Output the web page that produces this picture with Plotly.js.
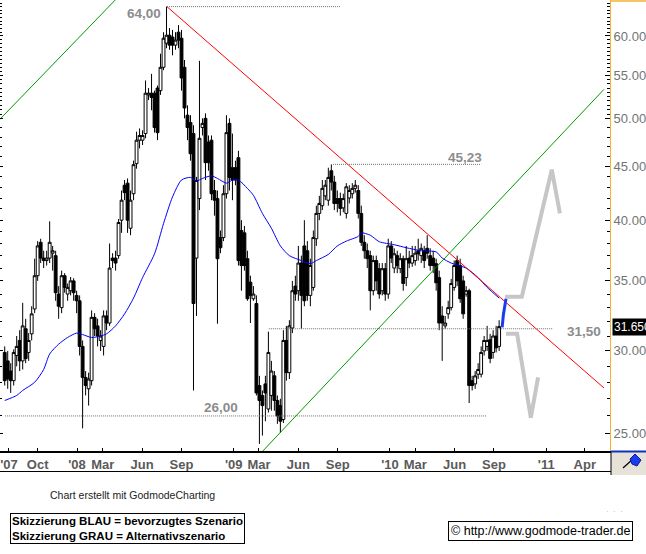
<!DOCTYPE html>
<html>
<head>
<meta charset="utf-8">
<script src="https://cdn.plot.ly/plotly-3.0.1.min.js"></script>
<style>
  html, body { margin: 0; padding: 0; background: #ffffff; }
  #chart { width: 646px; height: 554px; }
</style>
</head>
<body>
<div id="chart"></div>
<script>
// ---------------- DATA ----------------
const firstWeek = '2007-07-16';   // weekly candles, one per week from here

const openP = [
29.9, 29.35, 28.7, 28.1, 29.7, 30.7, 29.35, 31.5, 29.9, 31.15,
32.9, 35.4, 38.1, 36.8, 36.6, 36.8, 37.2, 37.0, 34.0, 33.0,
35.4, 34.0, 34.25, 35.0, 33.9, 33.5, 30.3, 28.3, 27.6, 28.1,
32.3, 31.7, 30.7, 30.3, 32.4, 31.9, 36.8, 36.8, 37.0, 40.0,
43.2, 43.4, 39.3, 42.4, 45.3, 47.7, 47.7, 48.4, 52.7, 52.9,
52.9, 53.5, 53.2, 56.0, 59.05, 60.1, 59.85, 58.8, 60.5, 59.7,
56.0, 50.4, 49.6, 48.4, 36.8, 41.95, 49.05, 50.05, 47.5, 47.7,
42.7, 41.95, 38.5, 38.5, 42.4, 49.5, 44.9, 44.9, 45.9, 39.1,
38.9, 36.75, 34.9, 33.65, 33.3, 27.8, 27.2, 27.9, 26.4, 27.2,
28.4, 26.9, 26.6, 25.8, 30.7, 28.6, 31.55, 34.6, 34.25, 36.4,
37.8, 37.4, 33.9, 34.5, 38.4, 40.6, 41.3, 42.2, 41.8, 44.6,
43.5, 41.95, 41.95, 41.1, 40.6, 42.0, 42.4, 42.9, 42.7, 40.6,
38.1, 37.4, 37.0, 34.25, 36.6, 35.95, 34.25, 35.95, 34.0, 37.8,
36.0, 37.0, 35.95, 36.75, 35.25, 36.8, 36.4, 36.6, 37.4, 37.0,
37.4, 37.6, 37.0, 36.8, 36.35, 35.25, 32.4, 31.7, 32.55, 33.0,
34.5, 36.6, 36.2, 35.0, 34.0, 34.25, 28.1, 27.9, 28.5, 28.5,
30.0, 30.3, 30.75, 29.9, 31.0, 30.3
];
const highP = [
30.3, 30.0, 29.2, 30.1, 31.0, 31.4, 33.35, 32.2, 31.2, 33.1,
36.75, 38.2, 38.4, 37.4, 37.4, 39.9, 37.8, 37.4, 34.6, 35.8,
35.6, 34.8, 35.3, 35.2, 34.25, 33.9, 30.7, 28.7, 28.6, 32.8,
32.6, 32.2, 31.4, 32.8, 32.8, 38.0, 37.2, 37.4, 40.1, 42.7,
43.7, 43.85, 42.7, 45.6, 48.6, 48.95, 48.75, 54.4, 53.5, 55.2,
53.2, 53.8, 57.7, 60.5, 64.0, 61.05, 60.8, 60.5, 61.45, 60.8,
56.9, 51.5, 50.4, 49.3, 44.0, 56.8, 50.05, 50.6, 48.2, 48.2,
43.7, 42.7, 39.1, 43.2, 50.4, 50.05, 48.4, 45.6, 46.6, 40.0,
39.5, 37.4, 35.4, 34.6, 33.9, 28.4, 27.5, 28.4, 31.3, 29.35,
28.7, 27.2, 27.0, 31.4, 31.7, 32.1, 35.0, 35.4, 37.8, 37.0,
40.0, 38.2, 36.75, 39.1, 41.3, 42.2, 43.7, 43.7, 44.9, 45.23,
44.1, 42.7, 42.5, 42.4, 43.4, 43.2, 43.4, 43.7, 43.2, 41.3,
38.7, 38.0, 37.4, 37.0, 37.0, 36.4, 36.4, 36.4, 38.4, 38.2,
37.6, 37.4, 37.2, 37.0, 37.8, 37.4, 37.8, 37.8, 38.4, 38.0,
37.8, 38.7, 37.6, 37.4, 36.75, 35.8, 33.1, 32.4, 33.5, 35.15,
36.6, 37.0, 36.75, 35.4, 34.6, 34.4, 28.4, 28.7, 29.2, 30.3,
31.0, 31.7, 31.15, 31.4, 31.7, 32.1
];
const lowP = [
27.8, 27.6, 27.35, 27.8, 29.0, 28.7, 28.8, 29.2, 29.35, 30.7,
32.6, 35.0, 36.4, 36.0, 36.2, 36.4, 35.8, 33.5, 32.2, 32.6,
34.1, 33.5, 33.9, 33.5, 32.6, 29.7, 25.3, 27.2, 26.6, 27.8,
31.0, 30.3, 30.0, 29.7, 31.4, 31.7, 36.0, 35.8, 36.75, 38.9,
41.8, 38.9, 38.7, 41.8, 44.8, 46.85, 47.2, 47.9, 52.1, 50.95,
48.5, 47.7, 52.7, 55.65, 58.4, 58.2, 57.5, 58.2, 58.4, 53.2,
50.05, 47.7, 45.6, 27.5, 32.4, 40.9, 48.2, 43.7, 44.6, 41.8,
40.4, 31.85, 37.2, 38.2, 41.95, 42.7, 41.8, 43.2, 36.2, 34.25,
35.8, 33.5, 31.9, 33.5, 27.2, 24.45, 24.9, 25.7, 26.2, 26.3,
26.3, 25.55, 25.05, 25.6, 28.1, 28.2, 31.2, 33.5, 33.5, 31.5,
33.1, 33.5, 33.1, 34.25, 37.8, 40.0, 40.9, 41.8, 41.3, 42.7,
40.9, 40.7, 40.4, 40.7, 40.15, 41.5, 41.95, 42.5, 40.15, 37.8,
36.75, 36.0, 32.8, 33.9, 34.25, 33.65, 33.9, 33.5, 33.65, 36.4,
35.6, 35.6, 35.6, 34.25, 34.6, 36.0, 36.1, 36.2, 36.6, 36.4,
36.0, 36.75, 35.8, 35.6, 34.25, 31.4, 29.35, 31.5, 32.2, 32.8,
34.25, 34.6, 33.35, 32.2, 33.8, 26.75, 27.5, 27.6, 28.2, 28.3,
29.7, 30.0, 29.2, 29.5, 29.9, 30.0
];
const closeP = [
28.1, 28.2, 28.1, 29.9, 30.3, 29.35, 31.7, 29.5, 30.7, 32.55,
35.4, 37.8, 36.8, 36.6, 36.8, 38.1, 37.4, 34.1, 33.1, 35.4,
34.5, 34.5, 35.0, 34.1, 33.5, 30.3, 28.3, 27.8, 28.2, 32.3,
31.5, 31.0, 31.0, 32.4, 31.9, 36.0, 36.6, 36.4, 39.8, 41.8,
42.5, 40.0, 41.8, 45.2, 47.7, 48.2, 48.2, 52.9, 52.9, 52.4,
49.05, 48.5, 56.0, 59.7, 60.1, 58.8, 58.8, 59.45, 59.45, 54.7,
51.2, 49.05, 46.3, 33.3, 43.66, 47.9, 49.5, 45.4, 45.4, 42.4,
41.8, 36.75, 37.65, 42.4, 48.5, 43.95, 43.7, 43.7, 36.6, 36.2,
36.2, 33.65, 33.9, 34.0, 27.35, 26.9, 26.6, 27.35, 29.9, 28.7,
26.9, 26.0, 25.7, 30.7, 28.6, 31.7, 34.25, 34.0, 36.4, 33.9,
33.5, 33.9, 36.2, 38.5, 40.6, 41.5, 42.9, 43.2, 43.95, 43.5,
41.5, 41.5, 41.05, 41.95, 43.05, 42.7, 42.9, 43.2, 40.6, 38.1,
37.4, 36.75, 34.25, 36.6, 35.0, 34.0, 35.95, 34.0, 37.8, 36.8,
37.15, 36.2, 36.75, 34.8, 36.75, 36.4, 37.0, 37.2, 37.15, 37.6,
36.6, 37.2, 36.2, 36.2, 34.85, 31.9, 31.9, 31.9, 33.0, 34.8,
36.2, 35.0, 33.65, 32.55, 34.25, 27.8, 27.8, 28.4, 28.8, 29.9,
30.7, 30.7, 29.5, 31.0, 30.2, 31.65
];

// moving average (blue), read at these week indices
const maWeek = [0,4,6,10,13,15,18,21,24,26,29,32,34,37,40,43,46,50,53,56,59,62,64,66,69,71,74,76,78,81,83,86,89,92,95,99,102,104,108,111,114,118,119,122,125,130,134,139,144,146,149,154,158,161,165];
const maValue = [26.9,27.2,27.5,28.0,28.8,29.8,30.45,30.9,31.2,31.1,30.9,31.0,31.15,31.7,32.55,33.7,35.25,37.15,39.7,42.1,43.7,43.95,43.6,43.85,44.1,43.85,43.4,43.7,43.7,42.9,42.25,40.6,39.3,37.8,37.0,36.6,36.35,36.6,37.1,37.8,38.2,38.6,38.9,38.7,38.15,37.9,37.65,37.4,37.3,36.8,36.4,36.0,35.25,34.5,33.7];

// trend lines
const redX = ['2008-07-29', '2011-05-16'];          const redY = [64.0, 27.65];
const greenUpX = ['2007-06-12', '2008-04-22'];      const greenUpY = [48.85, 66.4];
const greenLoX = ['2009-03-10', '2011-05-16'];      const greenLoY = [24.07, 53.35];

// horizontal levels
const levelValue = [64.00, 45.23, 31.50, 26.00];
const levelStart = ['2008-07-29', '2009-08-21', '2009-03-24', '2007-07-17'];
const levelEnd   = ['2009-09-06', '2010-08-02', '2011-01-17', '2010-08-16'];
const levelLabelX = ['2008-06-05', '2010-06-26', '2011-03-30', '2008-12-02'];
const levelLabelY = [63.1, 45.9, 31.3, 26.46];

// scenarios
const blueX = ['2010-09-20', '2010-09-23', '2010-09-29'];
const blueY = [31.6, 32.5, 33.65];
const greyUpX = ['2010-09-27', '2010-11-05', '2011-01-14', '2011-02-02'];
const greyUpY = [33.8, 33.8, 44.7, 40.6];
const greyDnX = ['2010-09-29', '2010-10-25', '2010-11-26', '2010-12-13'];
const greyDnY = [31.15, 31.15, 25.9, 28.3];

// axes
const xTickVals = ['2007-07-26','2007-10-01','2008-01-01','2008-03-01','2008-06-01','2008-09-01','2009-01-01','2009-03-01','2009-06-01','2009-09-01','2010-01-01','2010-03-01','2010-06-01','2010-09-01','2011-01-01','2011-04-01'];
const xTickText = ["'07",'Oct',"'08",'Mar','Jun','Sep',"'09",'Mar','Jun','Sep',"'10",'Mar','Jun','Sep',"'11",'Apr'];
const yTickVals = [25, 30, 35, 40, 45, 50, 55, 60];
const yTickText = ['25.000','30.000','35.000','40.000','45.000','50.000','55.000','60.000'];

// ---------------- BUILD ----------------
function addDays(iso, n) {
  const d = new Date(iso + 'T00:00:00Z');
  d.setUTCDate(d.getUTCDate() + n);
  return d.toISOString().slice(0, 10);
}
const weekDates = openP.map((_, i) => addDays(firstWeek, 7 * i));
const maDates = maWeek.map(i => weekDates[i]);

const minorVals = [];
for (let v = 24; v < 50; v += 1) if (yTickVals.indexOf(v) < 0) minorVals.push(v);
for (let v = 50.5; v < 65; v += 0.5) if (yTickVals.indexOf(v) < 0) minorVals.push(v);

const W = 610, H = 451;           // plot area in px
const px = x => x / W;
const py = y => (H - y) / H;
const FONT = 'Liberation Sans, Arial, sans-serif';

const traces = [];
traces.push({
  type: 'candlestick', x: weekDates, open: openP, high: highP, low: lowP, close: closeP,
  increasing: { line: { color: '#000000', width: 1 }, fillcolor: '#ffffff' },
  decreasing: { line: { color: '#000000', width: 1 }, fillcolor: '#000000' },
  whiskerwidth: 0, hoverinfo: 'skip', showlegend: false
});
traces.push({ type: 'scatter', mode: 'lines', x: maDates, y: maValue,
  line: { color: '#0000ff', width: 1, shape: 'spline', smoothing: 0.7 }, hoverinfo: 'skip' });
traces.push({ type: 'scatter', mode: 'lines', x: redX, y: redY, line: { color: '#ff0000', width: 1 }, hoverinfo: 'skip' });
traces.push({ type: 'scatter', mode: 'lines', x: greenUpX, y: greenUpY, line: { color: '#009900', width: 1 }, hoverinfo: 'skip' });
traces.push({ type: 'scatter', mode: 'lines', x: greenLoX, y: greenLoY, line: { color: '#009900', width: 1 }, hoverinfo: 'skip', yaxis: 'y2' });
for (let k = 0; k < levelValue.length; k++) {
  traces.push({ type: 'scatter', mode: 'lines', x: [levelStart[k], levelEnd[k]], y: [levelValue[k], levelValue[k]],
    line: { color: '#707070', width: 1, dash: '1px,1px' }, hoverinfo: 'skip' });
}
traces.push({ type: 'scatter', mode: 'lines', x: greyUpX, y: greyUpY, line: { color: '#c6c6c6', width: 4 }, hoverinfo: 'skip' });
traces.push({ type: 'scatter', mode: 'lines', x: greyDnX, y: greyDnY, line: { color: '#c6c6c6', width: 4 }, hoverinfo: 'skip' });
traces.push({ type: 'scatter', mode: 'lines', x: blueX, y: blueY, line: { color: '#1a3cf0', width: 3 }, hoverinfo: 'skip' });

const yRange = [Math.log10(24.07), Math.log10(64.94)];

const annotations = [];
for (let k = 0; k < levelValue.length; k++) {
  annotations.push({ xref: 'x', yref: 'y', x: levelLabelX[k], y: Math.log10(levelLabelY[k]),
    text: levelValue[k].toFixed(2).replace('.', ','), showarrow: false, xanchor: 'center', yanchor: 'middle',
    font: { family: FONT, size: 13.5, color: '#8c8c8c', weight: 'bold' } });
}
const last = closeP[closeP.length - 1];
annotations.push({ xref: 'paper', yref: 'y', x: px(612), y: Math.log10(last), xanchor: 'left', yanchor: 'middle',
  text: last.toFixed(3), showarrow: false, bgcolor: '#000000', borderpad: 1,
  font: { family: FONT, size: 12, color: '#ffffff' } });
annotations.push({ xref: 'paper', yref: 'paper', x: px(48), y: py(495), xanchor: 'left', yanchor: 'middle',
  text: 'Chart erstellt mit GodmodeCharting', showarrow: false, font: { family: FONT, size: 10.5, color: '#222222' } });
annotations.push({ xref: 'paper', yref: 'paper', x: px(10), y: py(513), xanchor: 'left', yanchor: 'top', align: 'left',
  text: 'Skizzierung BLAU = bevorzugtes Szenario<br>Skizzierung GRAU = Alternativszenario', showarrow: false,
  bordercolor: '#000000', borderwidth: 1, borderpad: 1, bgcolor: '#ffffff',
  font: { family: FONT, size: 11.5, color: '#000000', weight: 'bold' } });
annotations.push({ xref: 'paper', yref: 'paper', x: px(448), y: py(521), xanchor: 'left', yanchor: 'top',
  text: '© http://www.godmode-trader.de', showarrow: false,
  bordercolor: '#000000', borderwidth: 1, borderpad: 2, bgcolor: '#ffffff',
  font: { family: FONT, size: 12.5, color: '#000000' } });
annotations.push({ xref: 'paper', yref: 'paper', x: px(615), y: py(511), xanchor: 'center', yanchor: 'middle',
  text: '·  ·  ·', showarrow: false, font: { family: FONT, size: 8, color: '#b0b0b0' } });

const shapes = [
  { type: 'line', xref: 'paper', yref: 'paper', x0: 0, x1: px(611), y0: py(471.5), y1: py(471.5), line: { color: '#000000', width: 1 } },
  { type: 'rect', xref: 'paper', yref: 'paper', x0: px(611), x1: px(647), y0: py(452), y1: py(475), fillcolor: '#e6e2d8', line: { width: 0 } },
  { type: 'line', xref: 'paper', yref: 'paper', x0: px(611), x1: px(611), y0: py(451), y1: py(475), line: { color: '#000000', width: 1 } },
  { type: 'line', xref: 'paper', yref: 'paper', x0: px(611), x1: px(647), y0: py(451.5), y1: py(451.5), line: { color: '#1030c0', width: 2 } },
  { type: 'line', xref: 'paper', yref: 'paper', x0: px(611), x1: px(647), y0: py(1), y1: py(1), line: { color: '#f2b233', width: 1.5 } },
  { type: 'line', xref: 'paper', yref: 'paper', x0: px(623), x1: px(633), y0: py(468), y1: py(459), line: { color: '#000000', width: 1.2 } },
  { type: 'path', xref: 'paper', yref: 'paper',
    path: 'M ' + px(630) + ' ' + py(459) + ' L ' + px(635) + ' ' + py(454) + ' L ' + px(641) + ' ' + py(460) +
          ' L ' + px(637) + ' ' + py(466) + ' L ' + px(632) + ' ' + py(464) + ' Z',
    fillcolor: '#1a3cf0', line: { color: '#0a1a90', width: 1 } }
];

const layout = {
  width: 646, height: 554,
  margin: { l: 0, r: 36, t: 0, b: 103, pad: 0 },
  paper_bgcolor: '#ffffff', plot_bgcolor: '#ffffff',
  showlegend: false, hovermode: false,
  boxgap: 0.05, boxgroupgap: 0,
  font: { family: FONT },
  xaxis: {
    type: 'date', range: ['2007-07-05', '2011-05-30'], rangeslider: { visible: false },
    showgrid: false, zeroline: false, showline: true, linecolor: '#000000', linewidth: 2,
    ticks: 'inside', ticklen: 3, tickcolor: '#000000',
    tickmode: 'array', tickvals: xTickVals, ticktext: xTickText,
    tickfont: { family: FONT, size: 13, color: '#5a5a5a', weight: 'bold' },
    automargin: false, fixedrange: true
  },
  yaxis: {
    type: 'log', side: 'right', range: yRange,
    showgrid: false, zeroline: false, showline: true, linecolor: '#f2b233', linewidth: 1,
    ticks: 'inside', ticklen: 5, tickcolor: '#000000',
    tickmode: 'array', tickvals: yTickVals, ticktext: yTickText,
    tickfont: { family: FONT, size: 13, color: '#737373' },
    minor: { tickmode: 'array', tickvals: minorVals, ticks: 'inside', ticklen: 3, tickcolor: '#000000' },
    automargin: false, fixedrange: true
  },
  yaxis2: {
    type: 'log', overlaying: 'y', side: 'left', range: yRange,
    showgrid: false, zeroline: false, showline: false,
    ticks: 'inside', ticklen: 3, tickcolor: '#000000', showticklabels: false,
    tickmode: 'array', tickvals: yTickVals,
    minor: { tickmode: 'array', tickvals: minorVals, ticks: 'inside', ticklen: 2, tickcolor: '#000000' },
    automargin: false, fixedrange: true
  },
  annotations: annotations,
  shapes: shapes
};

Plotly.newPlot('chart', traces, layout, { displayModeBar: false, staticPlot: true });
</script>
</body>
</html>
